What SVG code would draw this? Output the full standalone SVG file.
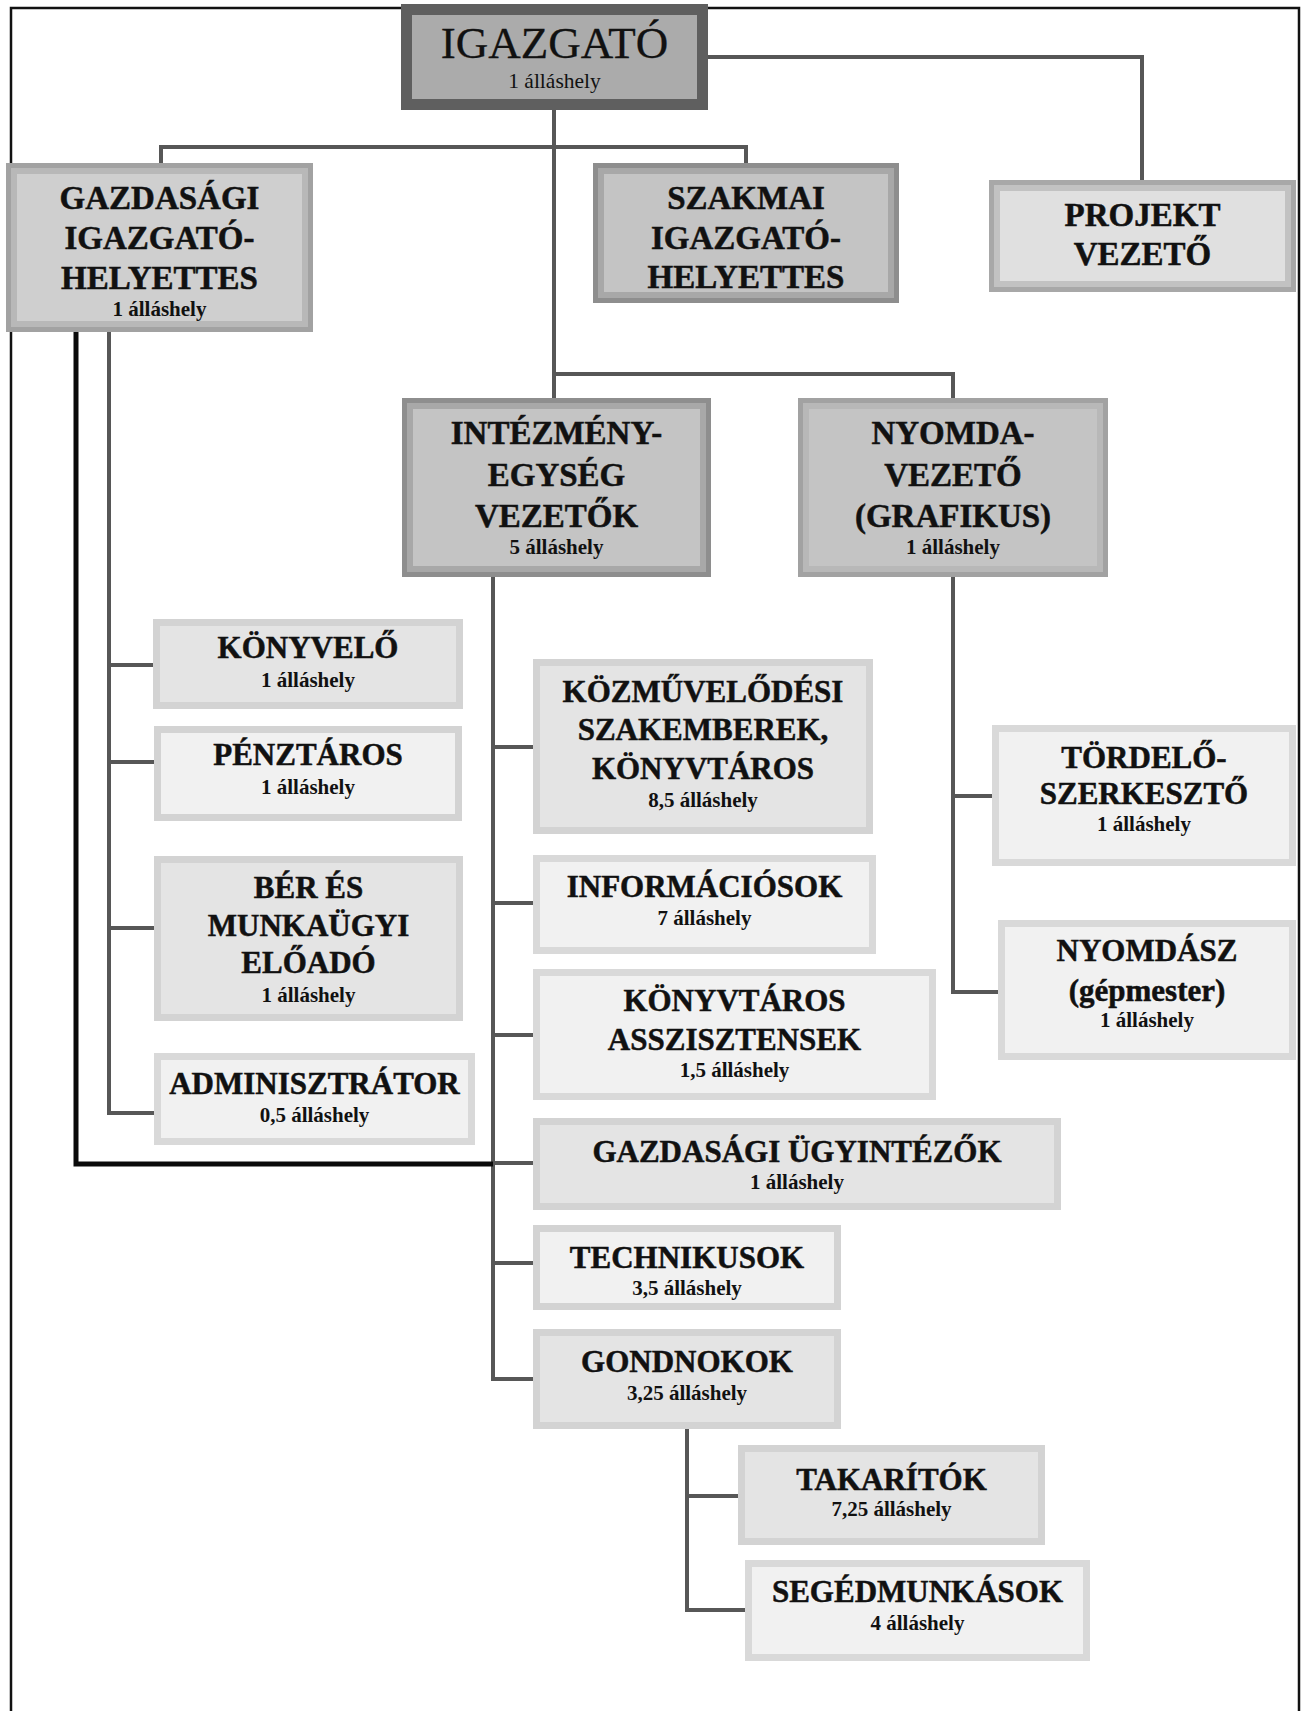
<svg xmlns="http://www.w3.org/2000/svg" width="1306" height="1711" viewBox="0 0 1306 1711">
<style>
text{font-family:"Liberation Serif","Times New Roman",serif;fill:#111;text-anchor:middle}
.big{font-size:45px;stroke:#111;stroke-width:0.3}
.sr{font-size:21.5px}
.t{font-size:33px;font-weight:bold;stroke:#111;stroke-width:0.5}
.t2{font-size:31px;font-weight:bold;stroke:#111;stroke-width:0.5}
.s{font-size:21px;font-weight:bold}
.frame{fill:none;stroke:#111;stroke-width:2.5}
.c{fill:none;stroke:#575757;stroke-width:4}
.cb{fill:none;stroke:#0a0a0a;stroke-width:5}
.dk-o{fill:#5f5f5f}.dk-i{fill:#ababab}
.md-o{fill:#a2a2a2}.md-m{fill:#b8b8b8}.md-i{fill:#cfcfcf}
.mk-o{fill:#8e8e8e}.mk-m{fill:#a8a8a8}.mk-i{fill:#c4c4c4}
.pj-o{fill:#a8a8a8}.pj-m{fill:#c2c2c2}.pj-i{fill:#e0e0e0}
.lt-o{fill:#d3d3d3}.lt-i{fill:#e4e4e4}
.wt-o{fill:#d9d9d9}.wt-i{fill:#f1f1f1}
</style>
<path class="frame" d="M11,1711 V8 H1299 V1711"/>
<g id="connectors">
<path class="c" d="M554,110 V398"/>
<path class="c" d="M161,163 V147 H746 V163"/>
<path class="c" d="M708,57 H1142 V180"/>
<path class="c" d="M554,374 H953 V398"/>
<path class="c" d="M953,577 V992 H998 M953,796 H992"/>
<path class="c" d="M493,577 V1379 H533 M493,747 H533 M493,903 H533 M493,1035 H533 M493,1163 H533 M493,1263 H533"/>
<path class="c" d="M109,332 V1113 H154 M109,665 H153 M109,762 H154 M109,928 H154"/>
<path class="cb" d="M76,332 V1164 H493"/>
<path class="c" d="M687,1429 V1610 H745 M687,1496 H738"/>
</g>
<g id="igazgato">
<rect class="dk-o" x="401" y="4" width="307" height="106"/>
<rect class="dk-i" x="412" y="15" width="285" height="84"/>
<text class="big" x="554.5" y="58">IGAZGATÓ</text>
<text class="sr" x="554.5" y="88">1 álláshely</text>
</g>
<g id="gazdasagi-igh">
<rect class="md-o" x="6" y="163" width="307" height="169"/>
<rect class="md-m" x="11" y="168" width="297" height="159"/>
<rect class="md-i" x="17" y="174" width="285" height="147"/>
<text class="t" x="159.5" y="209">GAZDASÁGI</text>
<text class="t" x="159.5" y="249">IGAZGATÓ-</text>
<text class="t" x="159.5" y="289">HELYETTES</text>
<text class="s" x="159.5" y="316">1 álláshely</text>
</g>
<g id="szakmai-igh">
<rect class="mk-o" x="593" y="163" width="306" height="140"/>
<rect class="mk-m" x="598" y="168" width="296" height="130"/>
<rect class="mk-i" x="604" y="174" width="284" height="118"/>
<text class="t" x="746" y="209">SZAKMAI</text>
<text class="t" x="746" y="249">IGAZGATÓ-</text>
<text class="t" x="746" y="288">HELYETTES</text>
</g>
<g id="projekt">
<rect class="pj-o" x="989" y="180" width="307" height="112"/>
<rect class="pj-m" x="994" y="185" width="297" height="102"/>
<rect class="pj-i" x="1000" y="191" width="285" height="90"/>
<text class="t" x="1142.5" y="226">PROJEKT</text>
<text class="t" x="1142.5" y="265">VEZETŐ</text>
</g>
<g id="intezmeny">
<rect class="mk-o" x="402" y="398" width="309" height="179"/>
<rect class="mk-m" x="407" y="403" width="299" height="169"/>
<rect class="mk-i" x="413" y="409" width="287" height="157"/>
<text class="t" x="556.5" y="444">INTÉZMÉNY-</text>
<text class="t" x="556.5" y="486">EGYSÉG</text>
<text class="t" x="556.5" y="527">VEZETŐK</text>
<text class="s" x="556.5" y="554">5 álláshely</text>
</g>
<g id="nyomda">
<rect class="md-o" x="798" y="398" width="310" height="179"/>
<rect class="md-m" x="803" y="403" width="300" height="169"/>
<rect class="mk-i" x="809" y="409" width="288" height="157"/>
<text class="t" x="953" y="444">NYOMDA-</text>
<text class="t" x="953" y="486">VEZETŐ</text>
<text class="t" x="953" y="527">(GRAFIKUS)</text>
<text class="s" x="953" y="554">1 álláshely</text>
</g>
<g id="konyvelo">
<rect class="lt-o" x="153" y="619" width="310" height="90"/>
<rect class="lt-i" x="160" y="626" width="296" height="76"/>
<text class="t2" x="308" y="658">KÖNYVELŐ</text>
<text class="s" x="308" y="687">1 álláshely</text>
</g>
<g id="penztaros">
<rect class="lt-o" x="154" y="726" width="308" height="95"/>
<rect class="wt-i" x="161" y="733" width="294" height="81"/>
<text class="t2" x="308" y="765">PÉNZTÁROS</text>
<text class="s" x="308" y="794">1 álláshely</text>
</g>
<g id="ber">
<rect class="lt-o" x="154" y="856" width="309" height="165"/>
<rect class="lt-i" x="161" y="863" width="295" height="151"/>
<text class="t2" x="308.5" y="898">BÉR ÉS</text>
<text class="t2" x="308.5" y="936">MUNKAÜGYI</text>
<text class="t2" x="308.5" y="973">ELŐADÓ</text>
<text class="s" x="308.5" y="1002">1 álláshely</text>
</g>
<g id="adminisztrator">
<rect class="wt-o" x="154" y="1053" width="321" height="92"/>
<rect class="wt-i" x="161" y="1060" width="307" height="78"/>
<text class="t2" x="314.5" y="1094">ADMINISZTRÁTOR</text>
<text class="s" x="314.5" y="1122">0,5 álláshely</text>
</g>
<g id="kozmuvelodesi">
<rect class="lt-o" x="533" y="659" width="340" height="175"/>
<rect class="lt-i" x="540" y="666" width="326" height="161"/>
<text class="t2" x="703" y="702">KÖZMŰVELŐDÉSI</text>
<text class="t2" x="703" y="740">SZAKEMBEREK,</text>
<text class="t2" x="703" y="779">KÖNYVTÁROS</text>
<text class="s" x="703" y="807">8,5 álláshely</text>
</g>
<g id="informaciosok">
<rect class="wt-o" x="533" y="855" width="343" height="99"/>
<rect class="wt-i" x="540" y="862" width="329" height="85"/>
<text class="t2" x="704.5" y="897">INFORMÁCIÓSOK</text>
<text class="s" x="704.5" y="925">7 álláshely</text>
</g>
<g id="konyvtaros-asszisztensek">
<rect class="wt-o" x="533" y="969" width="403" height="131"/>
<rect class="wt-i" x="540" y="976" width="389" height="117"/>
<text class="t2" x="734.5" y="1011">KÖNYVTÁROS</text>
<text class="t2" x="734.5" y="1050">ASSZISZTENSEK</text>
<text class="s" x="734.5" y="1077">1,5 álláshely</text>
</g>
<g id="gazdasagi-ugyintezok">
<rect class="lt-o" x="533" y="1118" width="528" height="92"/>
<rect class="lt-i" x="540" y="1125" width="514" height="78"/>
<text class="t2" x="797" y="1162">GAZDASÁGI ÜGYINTÉZŐK</text>
<text class="s" x="797" y="1189">1 álláshely</text>
</g>
<g id="technikusok">
<rect class="lt-o" x="533" y="1225" width="308" height="85"/>
<rect class="wt-i" x="540" y="1232" width="294" height="71"/>
<text class="t2" x="687" y="1268">TECHNIKUSOK</text>
<text class="s" x="687" y="1295">3,5 álláshely</text>
</g>
<g id="gondnokok">
<rect class="lt-o" x="533" y="1329" width="308" height="100"/>
<rect class="lt-i" x="540" y="1336" width="294" height="86"/>
<text class="t2" x="687" y="1372">GONDNOKOK</text>
<text class="s" x="687" y="1400">3,25 álláshely</text>
</g>
<g id="takaritok">
<rect class="lt-o" x="738" y="1445" width="307" height="100"/>
<rect class="lt-i" x="745" y="1452" width="293" height="86"/>
<text class="t2" x="891.5" y="1490">TAKARÍTÓK</text>
<text class="s" x="891.5" y="1516">7,25 álláshely</text>
</g>
<g id="segedmunkasok">
<rect class="wt-o" x="745" y="1560" width="345" height="101"/>
<rect class="wt-i" x="752" y="1567" width="331" height="87"/>
<text class="t2" x="917.5" y="1602">SEGÉDMUNKÁSOK</text>
<text class="s" x="917.5" y="1630">4 álláshely</text>
</g>
<g id="tordelo-szerkeszto">
<rect class="wt-o" x="992" y="725" width="304" height="141"/>
<rect class="wt-i" x="999" y="732" width="290" height="127"/>
<text class="t2" x="1144" y="768">TÖRDELŐ-</text>
<text class="t2" x="1144" y="804">SZERKESZTŐ</text>
<text class="s" x="1144" y="831">1 álláshely</text>
</g>
<g id="nyomdasz">
<rect class="wt-o" x="998" y="920" width="298" height="140"/>
<rect class="wt-i" x="1005" y="927" width="284" height="126"/>
<text class="t2" x="1147" y="961">NYOMDÁSZ</text>
<text class="t2" x="1147" y="1001">(gépmester)</text>
<text class="s" x="1147" y="1027">1 álláshely</text>
</g>
</svg>
